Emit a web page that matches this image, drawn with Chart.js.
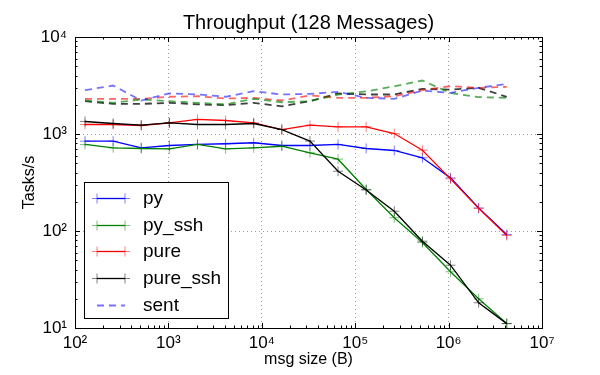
<!DOCTYPE html>
<html>
<head>
<meta charset="utf-8">
<script src="https://cdn.jsdelivr.net/npm/chart.js@4"></script>
<style>
  html, body { margin: 0; padding: 0; background: #fff; }
</style>
</head>
<body>
<canvas id="chart" width="600" height="375"></canvas>
<script>
// message sizes in bytes (2^7 .. 2^22)
const sizes = [128, 256, 512, 1024, 2048, 4096, 8192, 16384, 32768, 65536,
  131072, 262144, 524288, 1048576, 2097152, 4194304];

// tasks/s, solid lines
const py = [843, 843, 721, 761, 780, 793, 812, 761, 761, 780, 709, 676, 569, 353, 173, 92];
const pySsh = [780, 721, 709, 703, 780, 703, 721, 748, 640, 550, 268, 137, 76, 38, 20, 11.1];
const pure = [1253, 1253, 1224, 1303, 1413, 1377, 1303, 1112, 1233, 1186, 1186, 1012, 681, 345, 171, 90];
const pureSsh = [1346, 1283, 1233, 1303, 1253, 1253, 1283, 1112, 845, 413, 265, 160, 78.5, 44.4, 18.2, 11.1];

// "sent" rates, dashed lines
const pySent = [2830, 3160, 2215, 2620, 2560, 2420, 2760, 2555, 2590, 2720, 2360, 2306, 2800, 2660, 2990, 3290];
const pySshSent = [2215, 2095, 2270, 2180, 2095, 2020, 2306, 2125, 2180, 2550, 2750, 3100, 3560, 2640, 2400, 2360];
const pureSent = [2306, 2306, 2306, 2420, 2450, 2320, 2360, 2215, 2500, 2360, 2360, 2450, 2830, 3110, 2990, 3060];
const pureSshSent = [2180, 2045, 2045, 2095, 2020, 1980, 2095, 1930, 2180, 2620, 2555, 2555, 2920, 2870, 2990, 2420];

const xTicks = [1e2, 1e3, 1e4, 1e5, 1e6, 1e7];
const yTicks = [1e1, 1e2, 1e3, 1e4];

const FONT = '"Liberation Sans", Arial, sans-serif';
const SUP = { 1: '\u00b9', 2: '\u00b2', 3: '\u00b3', 4: '\u2074', 5: '\u2075', 6: '\u2076', 7: '\u2077' };

function pts(arr) {
  return arr.map((v, i) => ({ x: sizes[i], y: v }));
}

function solid(label, arr, color, marker, order) {
  return {
    label: label, data: pts(arr), order: order,
    borderColor: color, borderWidth: 1.3,
    pointStyle: 'cross', pointRadius: 5, pointBorderWidth: 1,
    pointBorderColor: marker, pointBackgroundColor: marker,
    tension: 0, fill: false
  };
}

function dashed(label, arr, color) {
  return {
    label: label, data: pts(arr), order: 10,
    borderColor: color, borderWidth: 1.8, borderDash: [7, 5],
    pointRadius: 0, tension: 0, fill: false
  };
}

// ticks inside the frame on all four sides, plus the frame itself
const framePlugin = {
  id: 'frame',
  afterDraw(chart) {
    const { ctx, chartArea: a, scales: { x, y } } = chart;
    ctx.save();
    ctx.strokeStyle = '#000';
    ctx.lineWidth = 1;
    ctx.beginPath();
    for (let e = 2; e < 7; e++) {
      for (let d = 1; d <= 9; d++) {
        const px = Math.round(x.getPixelForValue(d * Math.pow(10, e))) + 0.5;
        const len = d === 1 ? 5 : 2.5;
        ctx.moveTo(px, a.bottom); ctx.lineTo(px, a.bottom - len);
        ctx.moveTo(px, a.top); ctx.lineTo(px, a.top + len);
      }
    }
    for (let e = 1; e < 4; e++) {
      for (let d = 1; d <= 9; d++) {
        const py = Math.round(y.getPixelForValue(d * Math.pow(10, e))) + 0.5;
        const len = d === 1 ? 5 : 2.5;
        ctx.moveTo(a.left, py); ctx.lineTo(a.left + len, py);
        ctx.moveTo(a.right, py); ctx.lineTo(a.right - len, py);
      }
    }
    ctx.stroke();
    ctx.strokeRect(Math.round(a.left) + 0.5, Math.round(a.top) + 0.5,
      Math.round(a.right - a.left), Math.round(a.bottom - a.top));

    // title over the plot area
    ctx.fillStyle = '#000';
    ctx.font = '20px ' + FONT;
    ctx.textAlign = 'center';
    ctx.textBaseline = 'alphabetic';
    ctx.fillText('Throughput (128 Messages)', (a.left + a.right) / 2, 29);
    ctx.restore();
  }
};

// legend box in the lower left corner of the plot
const legendPlugin = {
  id: 'boxLegend',
  afterDraw(chart) {
    const { ctx, chartArea: a } = chart;
    const seen = {};
    const items = [];
    chart.data.datasets.forEach(ds => {
      if (!seen[ds.label]) { seen[ds.label] = true; items.push(ds); }
    });
    const left = a.left + 9, right = left + 144;
    const bottom = a.bottom - 10, top = bottom - 136;
    ctx.save();
    ctx.fillStyle = '#fff';
    ctx.fillRect(left, top, right - left, bottom - top);
    ctx.strokeStyle = '#000';
    ctx.lineWidth = 1;
    ctx.strokeRect(Math.round(left) + 0.5, Math.round(top) + 0.5, right - left, bottom - top);
    items.forEach((ds, i) => {
      const cy = Math.round(top + 16 + i * 26.7) + 0.5;
      const x0 = left + 13, x1 = left + 41;
      ctx.strokeStyle = ds.borderColor;
      ctx.lineWidth = ds.borderWidth;
      ctx.setLineDash(ds.borderDash || []);
      ctx.beginPath(); ctx.moveTo(x0, cy); ctx.lineTo(x1, cy); ctx.stroke();
      ctx.setLineDash([]);
      if (ds.pointRadius) {
        ctx.strokeStyle = ds.pointBorderColor;
        ctx.lineWidth = 1;
        ctx.beginPath();
        [x0, x1].forEach(px => {
          ctx.moveTo(px - 5, cy); ctx.lineTo(px + 5, cy);
          ctx.moveTo(px, cy - 5); ctx.lineTo(px, cy + 5);
        });
        ctx.stroke();
      }
      ctx.fillStyle = '#000';
      ctx.font = '19px ' + FONT;
      ctx.textAlign = 'left';
      ctx.textBaseline = 'middle';
      ctx.fillText(ds.label, left + 59, cy);
    });
    ctx.restore();
  }
};

const gridOpts = { color: '#a0a0a0', lineWidth: 1, drawTicks: false };
const borderOpts = { display: false, dash: [1, 3] };

new Chart(document.getElementById('chart').getContext('2d'), {
  type: 'line',
  data: {
    datasets: [
      solid('py', py, '#0000ff', 'rgba(0,0,255,0.5)', 4),
      solid('py_ssh', pySsh, '#008000', 'rgba(0,128,0,0.5)', 3),
      solid('pure', pure, '#ff0000', 'rgba(255,0,0,0.5)', 2),
      solid('pure_ssh', pureSsh, '#000000', 'rgba(0,0,0,0.5)', 1),
      dashed('sent', pySent, 'rgba(0,0,255,0.55)'),
      dashed('sent', pySshSent, 'rgba(0,128,0,0.65)'),
      dashed('sent', pureSent, 'rgba(255,0,0,0.6)'),
      dashed('sent', pureSshSent, 'rgba(0,0,0,0.75)')
    ]
  },
  options: {
    responsive: false,
    animation: false,
    layout: { padding: { top: 37, right: 58, left: 0, bottom: 0 } },
    plugins: {
      legend: { display: false },
      title: { display: false },
      tooltip: { enabled: false }
    },
    scales: {
      x: {
        type: 'logarithmic',
        min: 1e2, max: 1e7,
        afterBuildTicks: s => { s.ticks = xTicks.map(v => ({ value: v })); },
        afterFit: s => { s.height = 47; },
        border: borderOpts,
        grid: gridOpts,
        ticks: {
          autoSkip: false, maxRotation: 0, padding: 5,
          color: '#000', font: { family: FONT, size: 17 },
          callback: v => '10' + SUP[Math.round(Math.log10(v))]
        },
        title: {
          display: true, text: 'msg size (B)', color: '#000',
          font: { family: FONT, size: 16 }, padding: { top: 0, bottom: 6 }
        }
      },
      y: {
        type: 'logarithmic',
        min: 1e1, max: 1e4,
        afterBuildTicks: s => { s.ticks = yTicks.map(v => ({ value: v })); },
        afterFit: s => { s.width = 75; },
        border: borderOpts,
        grid: gridOpts,
        ticks: {
          autoSkip: false, padding: 8,
          color: '#000', font: { family: FONT, size: 17 },
          callback: v => '10' + SUP[Math.round(Math.log10(v))]
        },
        title: {
          display: true, text: 'Tasks/s', color: '#000',
          font: { family: FONT, size: 16 }, padding: { top: 20, bottom: 0 }
        }
      }
    }
  },
  plugins: [framePlugin, legendPlugin]
});
</script>
</body>
</html>
